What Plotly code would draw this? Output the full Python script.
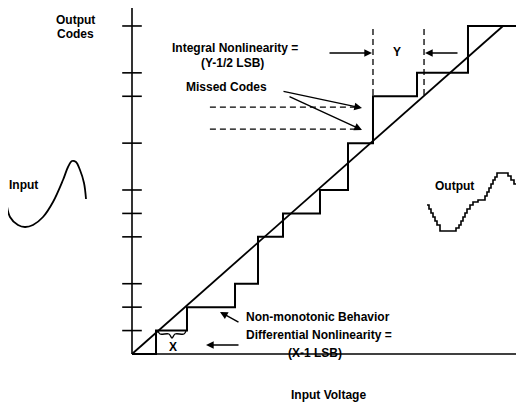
import plotly.graph_objects as go

# ---- data (LSB units) ----
step_x = [0, 0.906, 2.075, 3.887, 4.755, 5.698, 7.094, 8.151, 9.094, 10.755, 12.679, 14.75]
step_codes = [0, 1, 2, 3, 5, 6, 7, 9, 11, 12, 14, 14]
tick_codes = [1, 2, 3, 5, 6, 7, 9, 11, 12, 14]
ideal_x = [0, 14]
ideal_y = [0, 14]
missed_levels = [10.54, 9.60]
missed_x = [2.94, 8.6]
y_marks_x = [9.094, 11.02]
y_marks_top = 13.87
y_marks_bottom = [10.97, 11.01]

# doodle curves (pixel space)
input_x = [6, 10, 18, 25, 33, 43, 53, 63, 68, 72, 76, 80, 84, 86]
input_y = [199, 217, 225, 227, 225, 217, 202, 180, 167, 161, 162, 170, 183, 199]
output_pts = [
    (427, 205), (429, 205), (429, 209), (431, 209), (431, 213), (433, 213), (433, 217), (435, 217),
    (435, 221), (437, 221), (437, 225), (440, 225), (440, 231),
    (456, 231), (456, 228), (459, 228), (459, 225), (461, 225), (461, 221), (463, 221), (463, 217),
    (465, 217), (465, 213), (467, 213), (467, 209), (470, 209), (470, 205), (473, 205), (473, 202),
    (478, 202), (478, 200), (485, 200),
    (485, 196), (487, 196), (487, 192), (489, 192), (489, 188), (491, 188), (491, 184), (493, 184),
    (493, 180), (495, 180), (495, 177), (497, 177), (497, 173), (508, 173),
    (508, 176), (511, 176), (511, 180), (514, 180), (514, 184), (517, 184), (517, 188), (520, 188),
    (520, 192), (523, 192)]
brace_x = [158, 160, 169, 172, 175, 184, 186]
brace_y = [331, 334, 334, 338, 334, 334, 331]

W, H = 524, 404
OFF = 8  # page body margin
SX, SY, X0, Y0 = 26.5, 23.43, 132, 354

fig = go.Figure()
K = 'black'
# axes
fig.add_trace(go.Scatter(x=[0, 0], y=[0, 14.77], mode='lines', line=dict(color=K, width=1.6)))
fig.add_trace(go.Scatter(x=[0, 14.79], y=[0, 0], mode='lines', line=dict(color=K, width=1.6)))
fig.add_trace(go.Scatter(x=[0] * len(tick_codes), y=tick_codes, mode='markers',
                         marker=dict(symbol='line-ew', size=14, line=dict(color=K, width=1.6))))
# ideal line and staircase
fig.add_trace(go.Scatter(x=ideal_x, y=ideal_y, mode='lines', line=dict(color=K, width=1.8)))
fig.add_trace(go.Scatter(x=step_x, y=step_codes, mode='lines', line=dict(color=K, width=2, shape='hv')))
# missed codes dashed
for lv in missed_levels:
    fig.add_trace(go.Scatter(x=missed_x, y=[lv, lv], mode='lines',
                             line=dict(color=K, width=1.3, dash='6px,4px')))
for xv, yb in zip(y_marks_x, y_marks_bottom):
    fig.add_trace(go.Scatter(x=[xv, xv], y=[y_marks_top, yb], mode='lines',
                             line=dict(color=K, width=1.3, dash='6px,4px')))
# doodles in pixel space
fig.add_trace(go.Scatter(x=input_x, y=input_y, mode='lines', xaxis='x2', yaxis='y2',
                         line=dict(color=K, width=1.8, shape='spline')))
fig.add_trace(go.Scatter(x=[p[0] for p in output_pts], y=[p[1] for p in output_pts], mode='lines',
                         xaxis='x2', yaxis='y2', line=dict(color=K, width=1.6)))
fig.add_trace(go.Scatter(x=brace_x, y=brace_y, mode='lines', xaxis='x2', yaxis='y2',
                         line=dict(color=K, width=1.3, shape='spline')))

FONT = dict(family='Liberation Sans, Arial', size=12, color=K)
texts = [
    ('Output', 75, 20), ('Codes', 75, 34),
    ('Integral Nonlinearity =', 235, 48), ('(Y-1/2 LSB)', 232, 63),
    ('Missed Codes', 226, 87), ('Y', 397, 52),
    ('Output', 454, 186), ('Input', 23, 185),
    ('Non-monotonic Behavior', 318, 317),
    ('Differential Nonlinearity =', 319, 335), ('(X-1 LSB)', 315, 353),
    ('X', 173, 347), ('Input Voltage', 328, 395),
]
ann = []
for t, x, y in texts:
    ann.append(dict(text='<b>' + t + '</b>', x=x, y=y, xref='x2', yref='y2', showarrow=False,
                    font=FONT, xanchor='center', yanchor='middle'))
arrows = [((282, 91), (362, 108)), ((288, 96), (362, 130)),
          ((328, 53), (372, 53)), ((459, 53), (425, 53)),
          ((240, 323), (220, 312)), ((240, 345), (206, 345))]
for (tx, ty), (hx, hy) in arrows:
    ann.append(dict(text='', x=hx, y=hy, ax=tx, ay=ty, xref='x2', yref='y2', axref='x2', ayref='y2',
                    showarrow=True, arrowhead=2, arrowsize=1.1, arrowwidth=1.4, arrowcolor=K))

fig.update_layout(
    width=W - OFF, height=H - OFF, margin=dict(l=0, r=0, t=0, b=0),
    paper_bgcolor='white', plot_bgcolor='white', showlegend=False,
    xaxis=dict(range=[-(X0 - OFF) / SX, (W - X0) / SX], visible=False, fixedrange=True),
    yaxis=dict(range=[-(H - Y0) / SY, (Y0 - OFF) / SY], visible=False, fixedrange=True),
    xaxis2=dict(range=[OFF, W], overlaying='x', visible=False),
    yaxis2=dict(range=[H, OFF], overlaying='y', visible=False),
    annotations=ann,
)
fig.write_html('out.html')
